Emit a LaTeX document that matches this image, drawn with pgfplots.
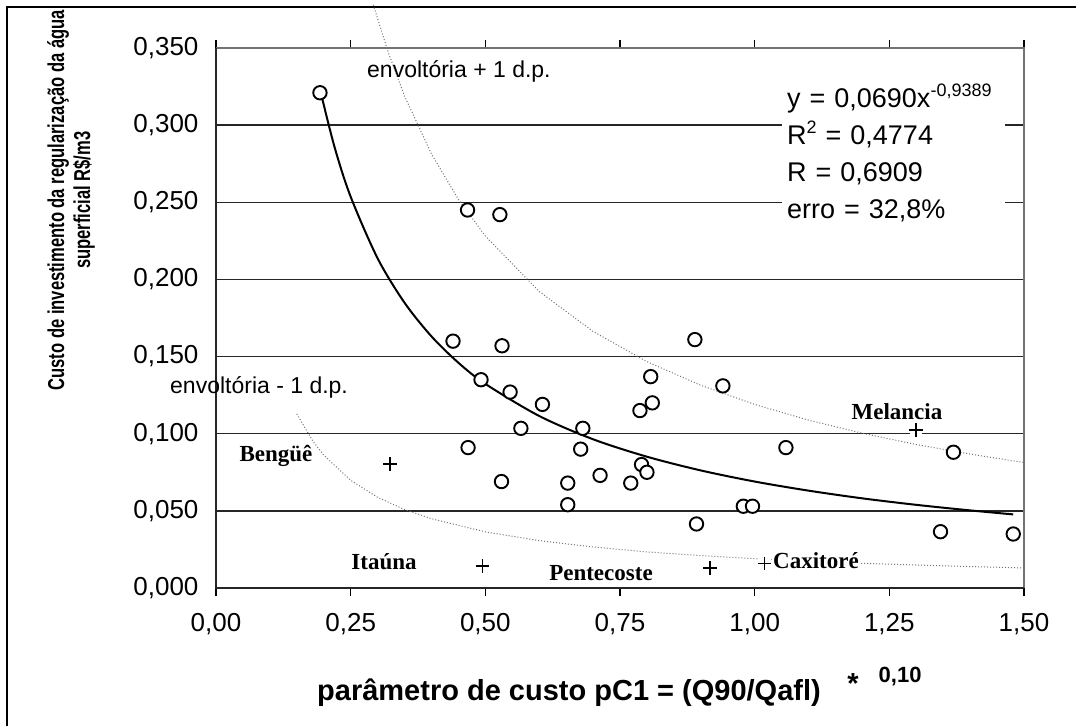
\documentclass[border=0pt]{standalone}
\usepackage{fontspec}
\setmainfont{Liberation Sans}
\newfontfamily\serifface{Liberation Serif}
\usepackage{pgfplots}
\pgfplotsset{compat=1.18}

\pgfplotstableread{
x y
0.193 0.321
0.467 0.245
0.527 0.242
0.440 0.160
0.531 0.157
0.889 0.161
0.492 0.135
0.546 0.127
0.807 0.137
0.941 0.131
0.606 0.119
0.566 0.1035
0.468 0.091
0.530 0.069
0.681 0.1035
0.677 0.090
0.653 0.068
0.653 0.054
0.713 0.073
0.770 0.068
0.790 0.080
0.800 0.075
0.787 0.115
0.810 0.120
1.058 0.091
0.892 0.0415
0.979 0.053
0.996 0.053
1.369 0.088
1.345 0.0365
1.480 0.035
}\circdata

\pgfplotstableread{
x y
0.323 0.0802
0.495 0.0143
0.917 0.0128
1.018 0.0160
1.299 0.1024
}\plusdata

\pgfplotstableread{
x y
0.193 0.3233
0.22 0.2859
0.25 0.2536
0.30 0.2137
0.35 0.1849
0.40 0.1631
0.45 0.1460
0.50 0.1323
0.60 0.1115
0.70 0.0964
0.80 0.0851
0.90 0.0762
1.00 0.0690
1.10 0.0631
1.20 0.0581
1.30 0.0539
1.40 0.0503
1.48 0.0477
}\trend

\pgfplotstableread{
x y
0.292 0.3780
0.32 0.3469
0.35 0.3189
0.40 0.2813
0.45 0.2519
0.50 0.2281
0.60 0.1922
0.70 0.1663
0.80 0.1467
0.90 0.1314
1.00 0.1190
1.10 0.1088
1.20 0.1003
1.30 0.0930
1.40 0.0868
1.50 0.0813
}\envup

\pgfplotstableread{
x y
0.15 0.1128
0.18 0.0951
0.20 0.0861
0.25 0.0698
0.30 0.0588
0.35 0.0509
0.40 0.0449
0.50 0.0364
0.60 0.0307
0.70 0.0266
0.80 0.0234
0.90 0.0210
1.00 0.0190
1.10 0.0174
1.20 0.0160
1.30 0.0149
1.40 0.0139
1.50 0.0130
}\envdown

\begin{document}
\begin{tikzpicture}
\path[use as bounding box] (-216pt,-138pt) rectangle (860pt,588pt);
\draw[black, line width=1.5pt] (-209pt,-138pt) -- (-209pt,581pt) -- (860pt,581pt);
\begin{axis}[
  name=ax, at={(0pt,0pt)}, anchor=south west,
  width=808pt, height=540pt, scale only axis,
  xmin=0, xmax=1.5, ymin=0, ymax=0.35,
  clip=false,
  xtick={0,0.25,0.5,0.75,1,1.25,1.5},
  ytick={0,0.05,0.1,0.15,0.2,0.25,0.3,0.35},
  ymajorgrids,
  major grid style={black!85, line width=1.3pt},
  axis line style={draw=none},
  tick align=outside, major tick length=8pt,
  xtick style={black, line width=1.3pt},
  ytick style={draw=none},
  /pgf/number format/assume math mode=true,
  xticklabel style={font=\fontsize{26}{26}\selectfont, yshift=-14pt,
    /pgf/number format/.cd, use comma, fixed, fixed zerofill, precision=2},
  yticklabel style={font=\fontsize{26}{26}\selectfont, xshift=-6pt,
    /pgf/number format/.cd, use comma, fixed, fixed zerofill, precision=3},
]
% envelopes
\addplot[black!55, dash pattern=on 1pt off 2pt, line width=1pt] table {\envup};
\addplot[black!55, dash pattern=on 1pt off 2pt, line width=1pt] table {\envdown};
% trend
\addplot[black, line width=2pt, smooth] table {\trend};
% data
\addplot[only marks, mark=*, mark size=6.7pt, mark options={fill=white, draw=black, line width=1.9pt}] table {\circdata};
\addplot[only marks, mark=square*, mark size=5.5pt, mark options={fill=white, draw=white}] table {\plusdata};
\addplot[only marks, mark=+, mark size=6.8pt, mark options={black, line width=1.6pt}] table {\plusdata};

% axis frame
\draw[black!55, line width=1.5pt] (rel axis cs:0,1) -- (rel axis cs:1,1) -- (rel axis cs:1,0);
\draw[black!85, line width=1.5pt] (rel axis cs:0,1) -- (rel axis cs:0,0) -- (rel axis cs:1,0);

% labels
\node[font=\serifface\bfseries\fontsize{23}{23}\selectfont] at (axis cs:0.1114,0.0856) {Bengüê};
\node[font=\serifface\bfseries\fontsize{23}{23}\selectfont] at (axis cs:0.3119,0.0169) {Itaúna};
\node[font=\serifface\bfseries\fontsize{23}{23}\selectfont] at (axis cs:0.7147,0.0097) {Pentecoste};
\node[font=\serifface\bfseries\fontsize{23}{23}\selectfont, anchor=west, fill=white, inner sep=1pt] at (axis cs:1.0322,0.0175) {Caxitoré};
\node[font=\serifface\bfseries\fontsize{23}{23}\selectfont] at (axis cs:1.2642,0.1141) {Melancia};
\node[font=\fontsize{23}{23}\selectfont, anchor=west, inner sep=0pt] at (axis cs:0.2803,0.3351) {envoltória + 1 d.p.};
\node[font=\fontsize{23}{23}\selectfont, anchor=west, inner sep=0pt] at (axis cs:-0.0854,0.1303) {envoltória - 1 d.p.};

\node[fill=white, anchor=west, align=left, text width=213pt, inner xsep=5pt, inner ysep=4pt,
      font=\fontsize{27}{37}\selectfont] at (axis cs:1.0507,0.2823)
  {y = 0,0690x\raisebox{11pt}{\fontsize{18}{18}\selectfont -0,9389}\\
   R\raisebox{11pt}{\fontsize{18}{18}\selectfont 2} = 0,4774\\
   R = 0,6909\\
   erro = 32,8\%};

% axis titles
\node[rotate=90, inner sep=0pt]
  at (axis description cs:-0.1782,0.718)
  {\scalebox{0.72}[1]{\bfseries\fontsize{23}{26}\selectfont
   \begin{tabular}{@{}c@{}}Custo de investimento da regularização da água\\superficial R\$/m3\end{tabular}}};
\node[font=\bfseries\fontsize{29}{29}\selectfont]
  at (axis description cs:0.4369,-0.1944) {parâmetro de custo pC1 = (Q90/Qafl)};
\node[font=\bfseries\fontsize{29}{29}\selectfont]
  at (axis description cs:0.7884,-0.1772) {*};
\node[font=\bfseries\fontsize{22}{22}\selectfont]
  at (axis description cs:0.8467,-0.1648) {0,10};
\end{axis}
\end{tikzpicture}
\end{document}
